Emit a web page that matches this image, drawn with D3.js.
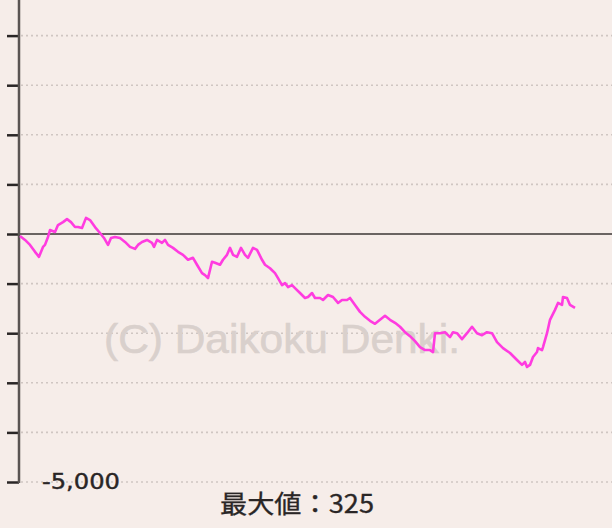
<!DOCTYPE html>
<html><head><meta charset="utf-8">
<script src="https://cdn.jsdelivr.net/npm/d3@7/dist/d3.min.js"></script>
<style>html,body{margin:0;padding:0;background:#f6ede9;overflow:hidden}</style>
</head><body>
<svg id="c" width="612" height="528"></svg>
<script>
const games = [0,50,100,150,190,230,250,280,300,350,380,430,470,510,550,580,620,660,700,750,800,840,880,910,950,1000,1050,1100,1150,1180,1220,1270,1320,1340,1370,1420,1450,1480,1530,1580,1630,1680,1730,1770,1820,1850,1880,1920,1950,2000,2030,2070,2100,2130,2170,2210,2250,2280,2330,2370,2420,2450,2500,2550,2580,2620,2650,2680,2720,2750,2800,2850,2880,2920,2950,3000,3030,3080,3130,3180,3220,3270,3300,3350,3400,3450,3500,3550,3600,3650,3700,3750,3800,3850,3900,3950,4000,4050,4100,4130,4150,4200,4250,4300,4330,4370,4420,4470,4520,4570,4620,4670,4720,4770,4830,4900,4970,5020,5050,5070,5100,5130,5170,5180,5220,5230,5270,5300,5350,5380,5420,5430,5470,5500,5550];
const diff = [-40,-120,-220,-360,-460,-260,-220,-60,80,40,180,240,300,240,140,140,120,325,280,140,20,-80,-220,-80,-60,-80,-160,-260,-300,-220,-160,-120,-180,-260,-120,-180,-120,-220,-280,-360,-420,-520,-480,-620,-790,-830,-890,-560,-580,-620,-520,-420,-280,-420,-460,-280,-420,-480,-280,-320,-520,-620,-690,-790,-890,-1030,-990,-1070,-1030,-1090,-1190,-1290,-1270,-1190,-1290,-1290,-1330,-1230,-1270,-1390,-1330,-1330,-1290,-1430,-1570,-1670,-1750,-1810,-1730,-1650,-1730,-1790,-1870,-1980,-2060,-2160,-2280,-2340,-2340,-2380,-2000,-2000,-1980,-2080,-1980,-2000,-2120,-2000,-1870,-2000,-2040,-1980,-2000,-2180,-2300,-2400,-2540,-2640,-2580,-2680,-2640,-2480,-2380,-2300,-2340,-2280,-2000,-1730,-1530,-1390,-1430,-1270,-1290,-1430,-1490];
const yTicks = [-5000,-4000,-3000,-2000,-1000,0,1000,2000,3000,4000,5000];
const labelText = "-5,000";
const maxText = "最大値：325";
const watermark = "(C) Daikoku Denki.";

const svg = d3.select("#c");
const W = 612, H = 528;
const x = d3.scaleLinear().domain([0, 5920]).range([20, 612]);
const y = d3.scaleLinear().domain([-5000, 5000]).range([482, -14]);

svg.append("rect").attr("width", W).attr("height", H).attr("fill", "#f6ede9");

// gridlines
svg.append("g").selectAll("line").data(yTicks.filter(d => d !== 0)).join("line")
  .attr("x1", 21).attr("x2", W).attr("y1", d => y(d)).attr("y2", d => y(d))
  .attr("stroke", "#cfc6c2").attr("stroke-width", 1.6).attr("stroke-dasharray", "2,3");

// watermark
svg.append("text").attr("x", 104).attr("y", 353).text(watermark)
  .attr("font-family", "Liberation Sans, Arial, sans-serif").attr("font-size", 41)
  .attr("fill", "#d9d0cc").attr("stroke", "#d9d0cc").attr("stroke-width", 0.6)
  .attr("textLength", 356).attr("lengthAdjust", "spacingAndGlyphs");

// zero line
svg.append("line").attr("x1", 20).attr("x2", W).attr("y1", y(0)).attr("y2", y(0))
  .attr("stroke", "#6a6462").attr("stroke-width", 2);

// y axis
const axis = d3.axisLeft(y).tickValues(yTicks).tickSize(12).tickFormat("");
const ga = svg.append("g").attr("transform", "translate(19,0)").call(axis);
ga.select(".domain").remove();
ga.selectAll(".tick line").attr("stroke", "#2a2626").attr("stroke-width", 2.5);
svg.append("line").attr("x1", 19).attr("x2", 19).attr("y1", 0).attr("y2", y(-5000) + 1)
  .attr("stroke", "#5a5452").attr("stroke-width", 2.5);

// series line
const line = d3.line().x((d, i) => x(games[i])).y(d => y(d));
svg.append("path").attr("d", line(diff)).attr("fill", "none")
  .attr("stroke", "#ff3ce0").attr("stroke-width", 2.6).attr("stroke-linejoin", "round");

// labels
svg.append("text").attr("x", 42).attr("y", 489).text(labelText)
  .attr("font-family", "DejaVu Sans, sans-serif").attr("font-size", 21)
  .attr("fill", "#2a2626").attr("stroke", "#2a2626").attr("stroke-width", 0.4)
  .attr("textLength", 78).attr("lengthAdjust", "spacingAndGlyphs");
svg.append("text").attr("x", 220).attr("y", 513).text(maxText)
  .attr("font-family", "Noto Sans CJK JP, sans-serif").attr("font-size", 25)
  .attr("fill", "#2a2626").attr("stroke", "#2a2626").attr("stroke-width", 0.3)
  .attr("textLength", 154).attr("lengthAdjust", "spacingAndGlyphs");
</script>
</body></html>
